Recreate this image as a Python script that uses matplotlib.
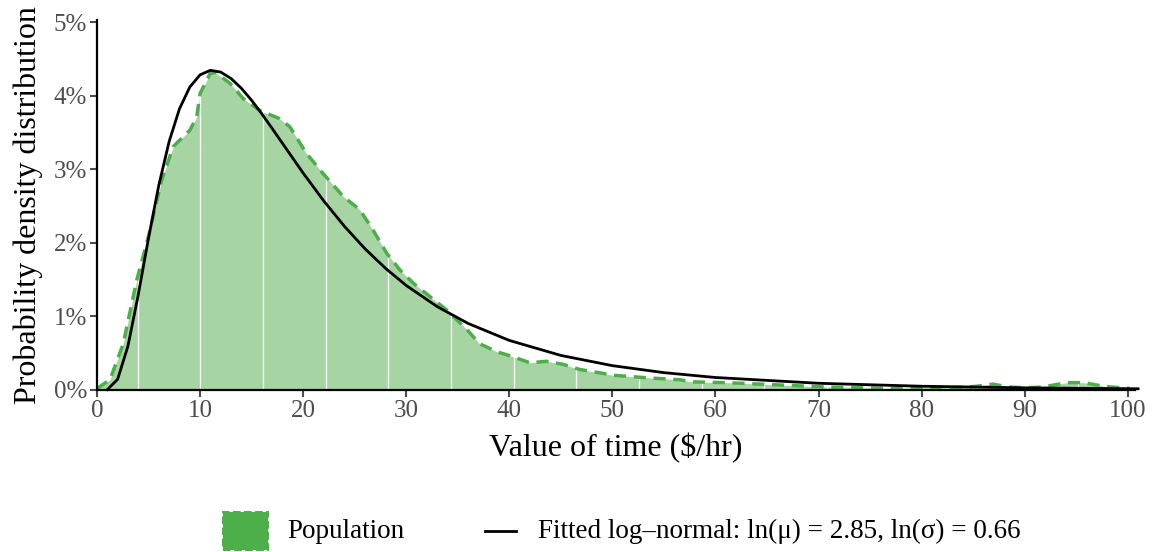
import numpy as np
import matplotlib
matplotlib.use("Agg")
import matplotlib.pyplot as plt
from matplotlib.patches import Rectangle
from matplotlib.lines import Line2D

plt.rcParams['font.family'] = ['Liberation Serif', 'DejaVu Serif']

# Population density (value of time, $/hr  ->  density fraction)
pop_x = [0, 1.26, 2.55, 3.85, 4.98, 6.27, 7.4, 9.0, 9.67, 10.0, 10.96, 11.45, 12.9,
         14.2, 15.8, 17.7, 18.7, 20.3, 21.95, 23.9, 25.5, 26.8, 28.1, 29.4, 30.7,
         32.3, 33.9, 35.9, 37.1, 38.8, 40.4, 42.0, 43.6, 45.2, 46.8, 48.5, 50.1,
         52.0, 54.0, 56.5, 57.8, 61.1, 64.3, 67.5, 70.8, 74.0, 77.2, 80.5, 83.0,
         85.3, 86.9, 88.5, 90.1, 91.7, 94.1, 95.7, 97.7, 100.2]
pop_y = [0.0002, 0.0014, 0.0063, 0.0149, 0.0208, 0.0285, 0.0331, 0.0353, 0.0371,
         0.0403, 0.0430, 0.0432, 0.0417, 0.0396, 0.0380, 0.0369, 0.0358, 0.0322,
         0.0294, 0.0263, 0.0245, 0.0217, 0.0186, 0.0163, 0.0145, 0.0127, 0.0109,
         0.0082, 0.0063, 0.0052, 0.0045, 0.0037, 0.0039, 0.0035, 0.0028, 0.0024,
         0.0020, 0.0018, 0.0016, 0.0014, 0.0011, 0.0010, 0.0008, 0.0006, 0.0004,
         0.0003, 0.0002, 0.0003, 0.0003, 0.0005, 0.0008, 0.0004, 0.0003, 0.0004,
         0.0010, 0.0010, 0.0005, 0.0002]

# Fitted log-normal curve
fit_x = [1, 2, 3, 4, 5, 6, 7, 8, 9, 10, 11, 12, 13, 14, 15, 16, 17, 18, 20, 22, 24,
         26, 28, 30, 33, 36, 40, 45, 50, 55, 60, 70, 80, 90, 101]
fit_y = [0.00005, 0.00145, 0.00596, 0.01292, 0.02066, 0.02786, 0.03379, 0.03822,
         0.04118, 0.04285, 0.04346, 0.04322, 0.04235, 0.04103, 0.03938, 0.03752,
         0.03554, 0.03352, 0.02949, 0.02570, 0.02226, 0.01920, 0.01653, 0.01421,
         0.01134, 0.00905, 0.00674, 0.00470, 0.00331, 0.00236, 0.00170, 0.000914,
         0.000511, 0.000295, 0.000168]

x_ticks = [0, 10, 20, 30, 40, 50, 60, 70, 80, 90, 100]
y_ticks = [0, 0.01, 0.02, 0.03, 0.04, 0.05]
y_labels = ["0%", "1%", "2%", "3%", "4%", "5%"]
legend_labels = ["Population", "Fitted log\u2013normal: ln(\u03bc) = 2.85, ln(\u03c3) = 0.66"]

fill_color = "#a6d5a3"
edge_color = "#4daf4a"
grey = "#4d4d4d"

W, H = 1155, 552
fig = plt.figure(figsize=(W / 100, H / 100), dpi=100)
ax = fig.add_axes([97 / W, 1 - 390 / H, (1135 - 97) / W, (390 - 20) / H])

poly = ax.fill_between(pop_x, pop_y, 0, color=fill_color, linewidth=0, zorder=1)
# thin white seams inside the filled area
seams = np.arange(3.95, 100, 6.08)
for s in seams:
    ln = ax.axvline(s, color="white", lw=0.9, zorder=1.5)
    ln.set_clip_path(poly.get_paths()[0], poly.get_transform())
ax.plot(pop_x, pop_y, color=edge_color, lw=2.5, ls=(0, (3.5, 2.2)), zorder=2)
ax.plot(fit_x, fit_y, color="black", lw=2.0, zorder=3, clip_on=False)

ax.set_xlim(0, 100.7)
ax.set_ylim(0, 0.0503)
ax.set_xticks(x_ticks)
ax.set_yticks(y_ticks)
ax.set_yticklabels(y_labels)
for sp in ["top", "right"]:
    ax.spines[sp].set_visible(False)
for sp in ["left", "bottom"]:
    ax.spines[sp].set_linewidth(1.6)
    ax.spines[sp].set_color("black")
ax.tick_params(axis="both", colors=grey, labelsize=18, length=5, width=1.5,
               direction="out", pad=2)
ax.set_xlabel("Value of time ($/hr)", fontsize=23, labelpad=8)
ax.set_ylabel("Probability density distribution", fontsize=23, labelpad=8)

# manual legend below the plot
def fx(px):
    return px / W

def fy(py):
    return 1 - py / H

fig.patches.append(Rectangle((fx(223), fy(550)), 45 / W, 38 / H, transform=fig.transFigure,
                             facecolor=edge_color, edgecolor=edge_color, linestyle="--",
                             linewidth=1.5))
fig.text(fx(287), fy(531), legend_labels[0], fontsize=19.5, va="center", ha="left")
fig.lines.append(Line2D([fx(485), fx(516)], [fy(531), fy(531)], transform=fig.transFigure,
                        color="black", lw=2))
fig.text(fx(538), fy(531), legend_labels[1], fontsize=19.5, va="center", ha="left")

fig.savefig("out.png", dpi=100)
